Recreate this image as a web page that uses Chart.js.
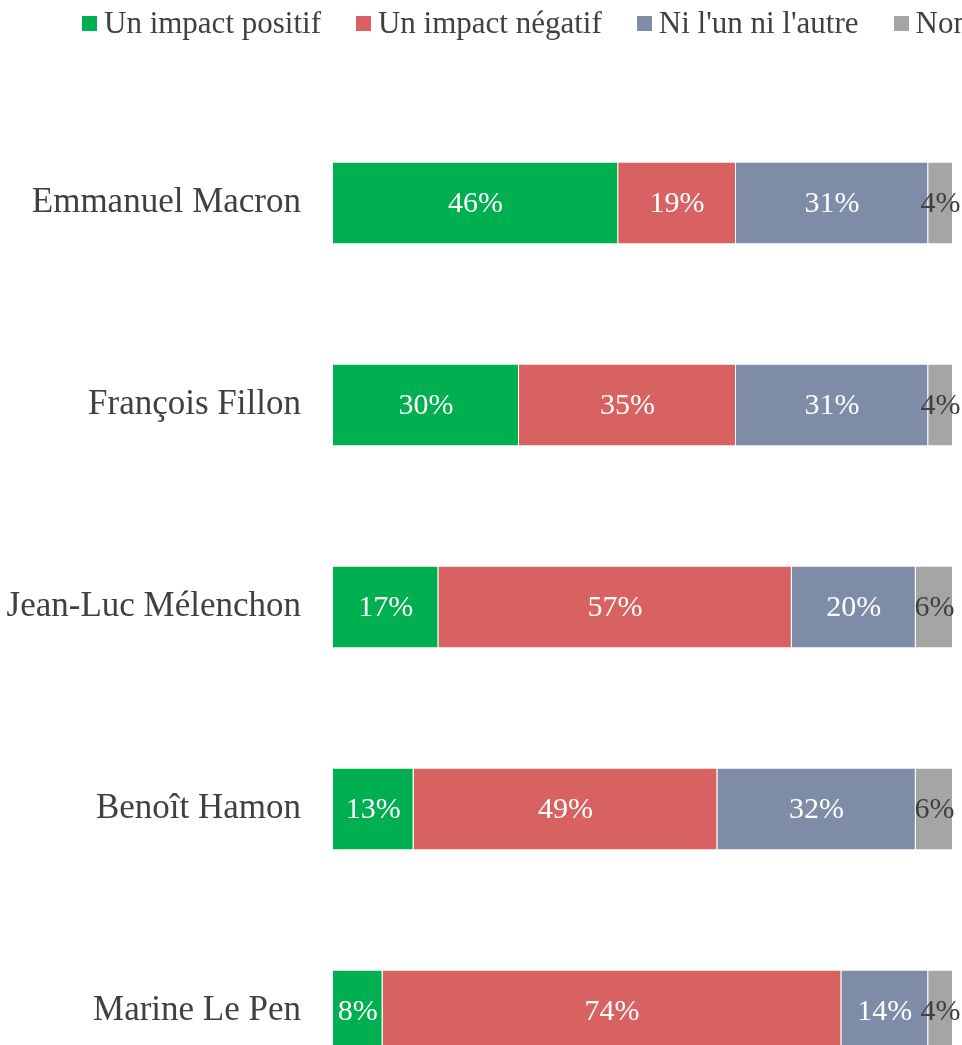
<!DOCTYPE html>
<html lang="fr">
<head>
<meta charset="utf-8">
<title>Impact des candidats</title>
<script src="https://cdn.jsdelivr.net/npm/chart.js@4/dist/chart.umd.min.js"></script>
<style>
  html, body { margin: 0; padding: 0; background: #fff; overflow: hidden; }
  #wrap { position: relative; width: 962px; height: 1045px; overflow: hidden; }
  #legend {
    position: absolute; top: 6px; left: 82px; z-index: 2;
    display: flex; align-items: center; white-space: nowrap;
    font-family: "Liberation Serif", "DejaVu Serif", serif;
    font-size: 31px; line-height: 34px; color: #404040;
  }
  .lg-item { display: flex; align-items: center; margin-right: 35px; }
  .lg-box { width: 15px; height: 15px; margin-right: 7px; flex: none; }
  /* extra height: the category axis keeps half a label + padding below the last bar */
  #chart-box { position: absolute; top: 0; left: 0; width: 962px; height: 1165px; }
</style>
</head>
<body>
<div id="wrap">
  <div id="legend"></div>
  <div id="chart-box"><canvas id="chart"></canvas></div>
</div>
<script>
const candidates = ['Emmanuel Macron', 'François Fillon', 'Jean-Luc Mélenchon', 'Benoît Hamon', 'Marine Le Pen'];
const seriesNames = ['Un impact positif', 'Un impact négatif', "Ni l'un ni l'autre", 'Non réponse'];
const positif = [46, 30, 17, 13, 8];
const negatif = [19, 35, 57, 49, 74];
const niLun   = [31, 31, 20, 32, 14];
const nonRep  = [4, 4, 6, 6, 4];
const colors = ['#00B050', '#D86262', '#7F8CA8', '#A5A5A5'];
const labelColors = ['#ffffff', '#ffffff', '#ffffff', '#404040'];

const FONT = '"Liberation Serif", "DejaVu Serif", serif';

// html legend (the original is cropped on the right)
document.getElementById('legend').innerHTML = seriesNames.map((n, i) => `
  <div class="lg-item"><span class="lg-box" style="background:${colors[i]}"></span><span>${n}</span></div>
`).join('');

const valueLabels = {
  id: 'valueLabels',
  afterDatasetsDraw(chart) {
    const ctx = chart.ctx;
    ctx.save();
    ctx.font = `30px ${FONT}`;
    ctx.textAlign = 'center';
    ctx.textBaseline = 'middle';
    chart.data.datasets.forEach((ds, i) => {
      const meta = chart.getDatasetMeta(i);
      ctx.fillStyle = labelColors[i];
      meta.data.forEach((el, j) => {
        const { x, base, y } = el.getProps(['x', 'base', 'y'], true);
        ctx.fillText(`${ds.data[j]}%`, (x + base) / 2, y + 1);
      });
    });
    ctx.restore();
  },
};

const allSeries = [positif, negatif, niLun, nonRep];

new Chart(document.getElementById('chart').getContext('2d'), {
  type: 'bar',
  data: {
    labels: candidates,
    datasets: allSeries.map((d, i) => ({
      label: seriesNames[i],
      data: d,
      backgroundColor: colors[i],
      borderColor: 'rgba(255,255,255,0.7)',
      borderWidth: { left: 0, right: 1, top: 0, bottom: 0 },
      borderSkipped: false,
      categoryPercentage: 1,
      barPercentage: 0.4,
    })),
  },
  options: {
    indexAxis: 'y',
    responsive: true,
    maintainAspectRatio: false,
    animation: false,
    layout: { padding: { top: 102, right: 9, bottom: 0, left: 0 } },
    plugins: {
      legend: { display: false },
      tooltip: { enabled: false },
    },
    scales: {
      x: {
        stacked: true,
        min: 0,
        max: 100,
        display: false,
      },
      y: {
        stacked: true,
        grid: { display: false, drawTicks: false },
        border: { display: false },
        afterFit: (s) => { s.width = 333; },
        ticks: {
          padding: 32,
          color: '#404040',
          font: { family: FONT, size: 35 },
        },
      },
    },
  },
  plugins: [valueLabels],
});
</script>
</body>
</html>
